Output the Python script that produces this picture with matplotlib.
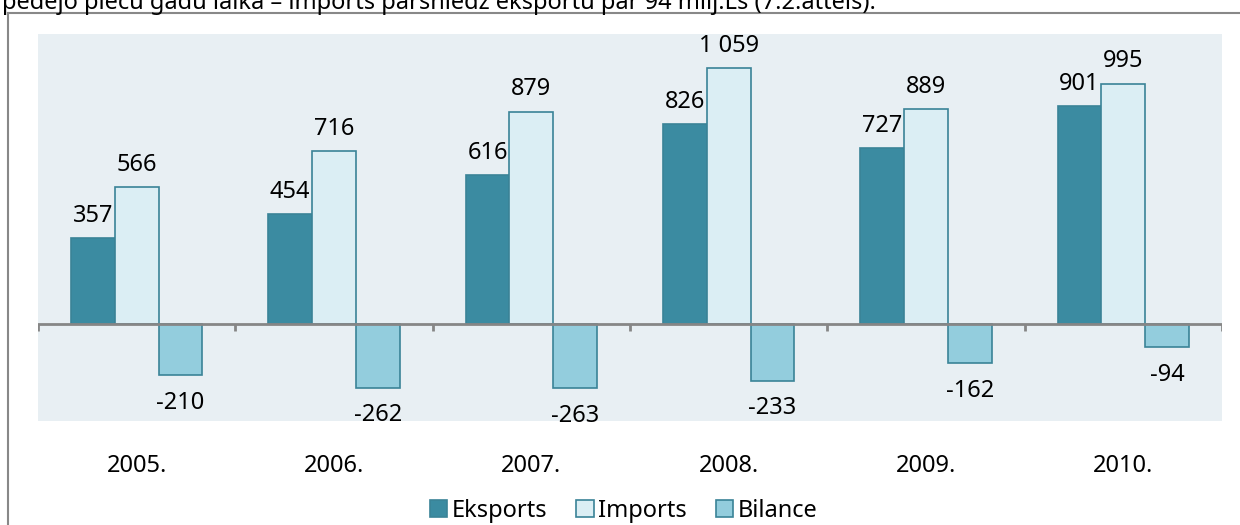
import numpy as np
import matplotlib.pyplot as plt
from matplotlib.patches import Patch
from matplotlib.lines import Line2D

years = ["2005.", "2006.", "2007.", "2008.", "2009.", "2010."]
eksports = [357, 454, 616, 826, 727, 901]
imports = [566, 716, 879, 1059, 889, 995]
bilance = [-210, -262, -263, -233, -162, -94]
labels = ["Eksports", "Imports", "Bilance"]

def fmt(v):
    return f"{v:,}".replace(",", " ")

plt.rcParams['font.family'] = ['Noto Sans', 'DejaVu Sans']

fig = plt.figure(figsize=(12.4, 5.25), dpi=100)
ax = fig.add_axes([38 / 1240, 104 / 525, (1222 - 38) / 1240, (421 - 34) / 525])
ax.set_facecolor('#e8eff3')

x = np.arange(len(years))
w = 0.222
edge = '#3a8397'
colors = ['#3b8ba1', '#dbeef4', '#93cddd']
series = [eksports, imports, bilance]
for i, (vals, c) in enumerate(zip(series, colors)):
    pos = x + (i - 1) * w
    ax.bar(pos, vals, w, color=c, edgecolor=edge, linewidth=1.2, zorder=2)
    for px, v in zip(pos, vals):
        off = 16 if v > 0 else -20
        ax.annotate(fmt(v), (px, v), xytext=(0, off), textcoords='offset points',
                    ha='center', va='center', fontsize=17)

ax.set_xlim(-0.5, len(years) - 0.5)
ax.set_ylim(-400, 1200)
ax.axhline(0, color='#868686', linewidth=2, zorder=3)
ax.vlines(np.arange(len(years) + 1) - 0.5, -28, 0, color='#868686', linewidth=2, zorder=3)
for s in ax.spines.values():
    s.set_visible(False)
ax.set_yticks([])
ax.set_xticks(x)
ax.set_xticklabels(years, fontsize=17)
ax.tick_params(axis='x', length=0, pad=24)

handles = [Patch(facecolor=c, edgecolor=edge, linewidth=1.2) for c in colors]
fig.legend(handles, labels, loc='center', bbox_to_anchor=(0.503, 1 - 511 / 525), ncol=3,
           frameon=False, fontsize=17, handlelength=0.75, handleheight=0.75,
           handletextpad=0.2, columnspacing=1.2)

# frame lines and cut-off caption text at top
fig.add_artist(Line2D([8 / 1240, 1], [1 - 13 / 525, 1 - 13 / 525], color='#888888', linewidth=1.5))
fig.add_artist(Line2D([8 / 1240, 8 / 1240], [0, 1 - 13 / 525], color='#888888', linewidth=1.5))
fig.text(2 / 1240, 1 - 9 / 525, "pēdējo piecu gadu laikā – imports pārsniedz eksportu par 94 milj.Ls (7.2.attēls).",
         fontsize=17, va='baseline', ha='left')

fig.savefig('out.png', dpi=100)
